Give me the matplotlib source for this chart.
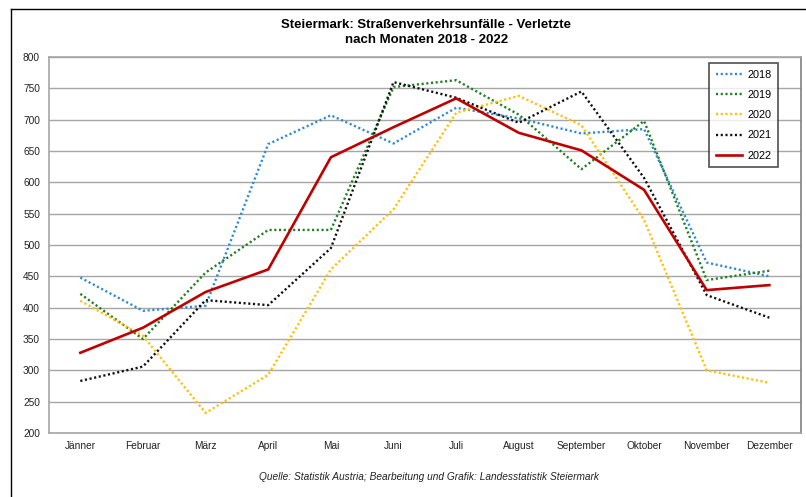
import matplotlib.pyplot as plt
from matplotlib.lines import Line2D

plt.rcParams['font.family'] = ['Liberation Sans', 'DejaVu Sans']

monate = ["Jänner", "Februar", "März", "April", "Mai", "Juni", "Juli",
          "August", "September", "Oktober", "November", "Dezember"]

v2018 = [448, 395, 403, 661, 707, 662, 719, 702, 678, 685, 472, 450]
v2019 = [422, 350, 456, 524, 524, 752, 763, 708, 621, 698, 444, 459]
v2020 = [411, 355, 232, 293, 461, 557, 711, 738, 691, 540, 300, 280]
v2021 = [283, 306, 412, 404, 495, 760, 735, 695, 745, 607, 420, 384]
v2022 = [328, 368, 425, 461, 640, 688, 734, 679, 651, 588, 428, 436]

fig = plt.figure(figsize=(8.06, 4.97), dpi=100)
ax = fig.add_axes([0.0608, 0.1288, 0.9326, 0.7565])

x = range(len(monate))
dot = (0, (0.9, 1.1))
ax.plot(x, v2018, color="#2e8bd0", lw=1.7, ls=dot, label="2018")
ax.plot(x, v2019, color="#1f7f1f", lw=1.7, ls=dot, label="2019")
ax.plot(x, v2020, color="#ffc000", lw=1.7, ls=dot, label="2020")
ax.plot(x, v2021, color="#111111", lw=1.7, ls=dot, label="2021")
ax.plot(x, v2022, color="#c00000", lw=1.9, label="2022")

ax.set_xlim(-0.5, 11.5)
ax.set_ylim(200, 800)
ax.set_yticks(range(200, 801, 50))
ax.set_xticks(list(x))
ax.set_xticklabels(monate)
ax.tick_params(length=0, labelsize=7.3, colors="#222222")
ax.tick_params(axis="x", pad=6)
ax.tick_params(axis="y", pad=6.5)
ax.grid(axis="y", color="#a6a6a6", lw=1)
ax.set_axisbelow(True)
for s in ax.spines.values():
    s.set_color("#a6a6a6")
    s.set_linewidth(1.2)
ax.spines["right"].set_color("#808080")

leg = ax.legend(loc="upper right", bbox_to_anchor=(0.970, 0.984), fontsize=7.8,
                frameon=True, fancybox=False, handlelength=2.4, labelspacing=0.95,
                borderpad=0.6, handletextpad=0.5, borderaxespad=0)
leg.get_frame().set_edgecolor("#222222")
leg.get_frame().set_linewidth(1.2)

fig.text(0.529, 0.935, "Steiermark: Straßenverkehrsunfälle - Verletzte\nnach Monaten 2018 - 2022",
         ha="center", va="center", fontsize=9.5, fontweight="bold", linespacing=1.3)
fig.text(0.532, 0.041, "Quelle: Statistik Austria; Bearbeitung und Grafik: Landesstatistik Steiermark",
         ha="center", va="center", fontsize=7.3, style="italic", color="#222222")

fig.add_artist(Line2D([11 / 806, 11 / 806], [0, 1 - 9 / 497], color="black", lw=1))
fig.add_artist(Line2D([11 / 806, 1], [1 - 9 / 497, 1 - 9 / 497], color="black", lw=1))

fig.savefig("out.png", dpi=100)
